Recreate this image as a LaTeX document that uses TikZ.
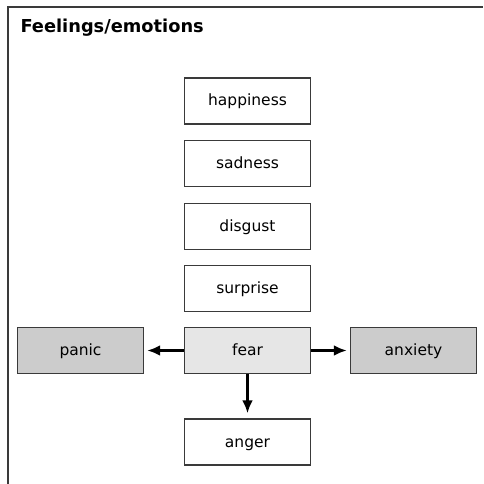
\documentclass[tikz,border=0pt]{standalone}
\usepackage{fontspec}
\setmainfont{DejaVu Sans}
\usepackage{tikz}
\usetikzlibrary{arrows.meta,positioning}
\definecolor{framegray}{HTML}{3A3A3A}
\definecolor{boxgray}{HTML}{CCCCCC}
\definecolor{lightgray}{HTML}{E6E6E6}
\tikzset{%
	emotion/.style = {draw=framegray, line width=1.4pt, rectangle, minimum width=126pt, minimum height=46pt, text height=12pt, text depth=2pt, text centered, font=\fontsize{15.5pt}{18pt}\selectfont},
	related/.style = {emotion, fill=boxgray},
	core/.style    = {emotion, fill=lightgray},
	arrow/.style   = {line width=3.5pt, -{Latex[length=13pt,width=11pt]}, shorten >=3pt},
}

\begin{document}
\begin{tikzpicture}[x=1pt,y=-1pt]
	\useasboundingbox (0,0) rectangle (483,484);
	\draw[framegray, line width=2pt] (8,484) -- (8,7) -- (483,7);
	\node[anchor=base west, font=\bfseries\fontsize{17.8pt}{20pt}\selectfont] (title) at (17,33) {Feelings/emotions};
	
	\node[emotion] (happiness) at (247.5,101) {happiness};
	\node[emotion] (sadness) at (247.5,163.5) {sadness};
	\node[emotion] (disgust) at (247.5,226.5) {disgust};
	\node[emotion] (surprise) at (247.5,288.5) {surprise};
	\node[core] (fear) at (247.5,350.5) {fear};
	\node[emotion] (anger) at (247.5,442) {anger};
	\node[related] (panic) at (80.5,350.5) {panic};
	\node[related] (anxiety) at (413.5,350.5) {anxiety};
	
	\draw[arrow] (fear.west) -- (panic.east);
	\draw[arrow] (fear.east) -- (anxiety.west);
	\draw[arrow, shorten >=5pt] (fear.south) -- (anger.north);
\end{tikzpicture}
\end{document}
